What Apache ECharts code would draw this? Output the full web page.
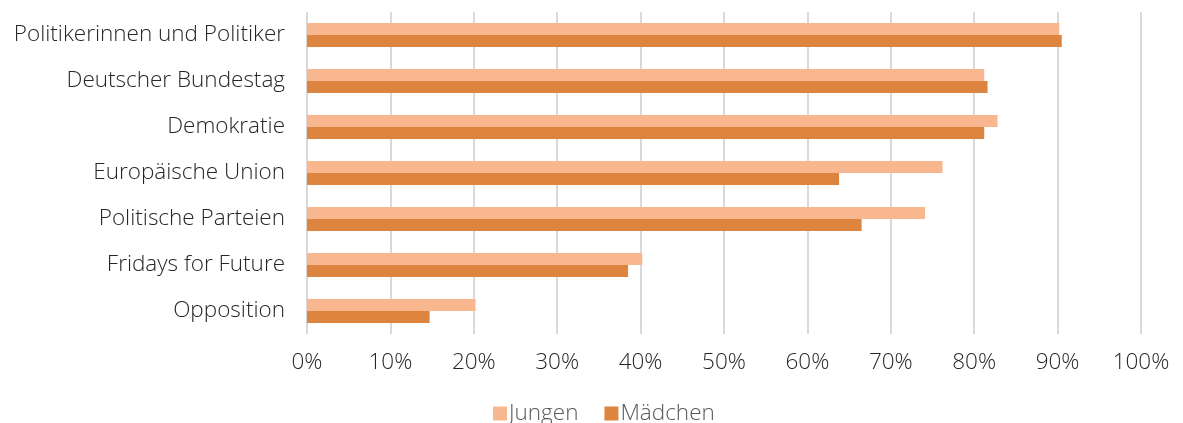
<!DOCTYPE html>
<html lang="de">
  <head>
    <meta charset="UTF-8" />
    <title>Vertrauen nach Geschlecht</title>
    <script src="https://cdn.jsdelivr.net/npm/echarts@6.0.0/dist/echarts.min.js"></script>
    <style>
      body {
        margin: 0;
        background-color: #ffffff;
      }
      #main {
        width: 1183px;
        height: 423px;
      }
    </style>
  </head>
  <body>
    <div id="main"></div>
    <script>
      // Kategorien von oben nach unten
      const categories = [
        "Politikerinnen und Politiker",
        "Deutscher Bundestag",
        "Demokratie",
        "Europäische Union",
        "Politische Parteien",
        "Fridays for Future",
        "Opposition"
      ];
      const jungen = [90.2, 81.2, 82.8, 76.2, 74.1, 40.2, 20.2];
      const maedchen = [90.5, 81.6, 81.2, 63.8, 66.5, 38.5, 14.7];

      const chart = echarts.init(document.getElementById("main"));

      const option = {
        animation: false,
        textStyle: { fontFamily: "Open Sans", fontWeight: 300 },
        grid: {
          left: 307,
          right: 42,
          top: 12,
          height: 322
        },
        legend: {
          bottom: -7,
          left: 488,
          itemWidth: 14,
          itemHeight: 14,
          itemGap: 26,
          icon: "rect",
          textStyle: { fontSize: 22.5, fontWeight: 300, color: "#595959", padding: [0, 0, 0, -3] },
          data: ["Jungen", "Mädchen"]
        },
        xAxis: {
          type: "value",
          min: 0,
          max: 100,
          interval: 10,
          axisLabel: {
            formatter: "{value}%",
            fontSize: 22.5,
            fontWeight: 300,
            color: "#262626",
            margin: 17
          },
          axisLine: { show: false },
          axisTick: { show: false },
          splitLine: { lineStyle: { color: "#d9d9d9", width: 2 } }
        },
        yAxis: {
          type: "category",
          data: categories,
          inverse: true,
          axisLabel: {
            fontSize: 22.5,
            fontWeight: 300,
            color: "#262626",
            margin: 22
          },
          axisLine: { show: false },
          axisTick: { show: false }
        },
        series: [
          {
            name: "Jungen",
            type: "bar",
            data: jungen,
            barGap: "0%",
            barCategoryGap: "48%",
            itemStyle: { color: "#f9b78f" }
          },
          {
            name: "Mädchen",
            type: "bar",
            data: maedchen,
            barGap: "0%",
            barCategoryGap: "48%",
            itemStyle: { color: "#dd843f" }
          }
        ]
      };

      chart.setOption(option);
    </script>
  </body>
</html>
